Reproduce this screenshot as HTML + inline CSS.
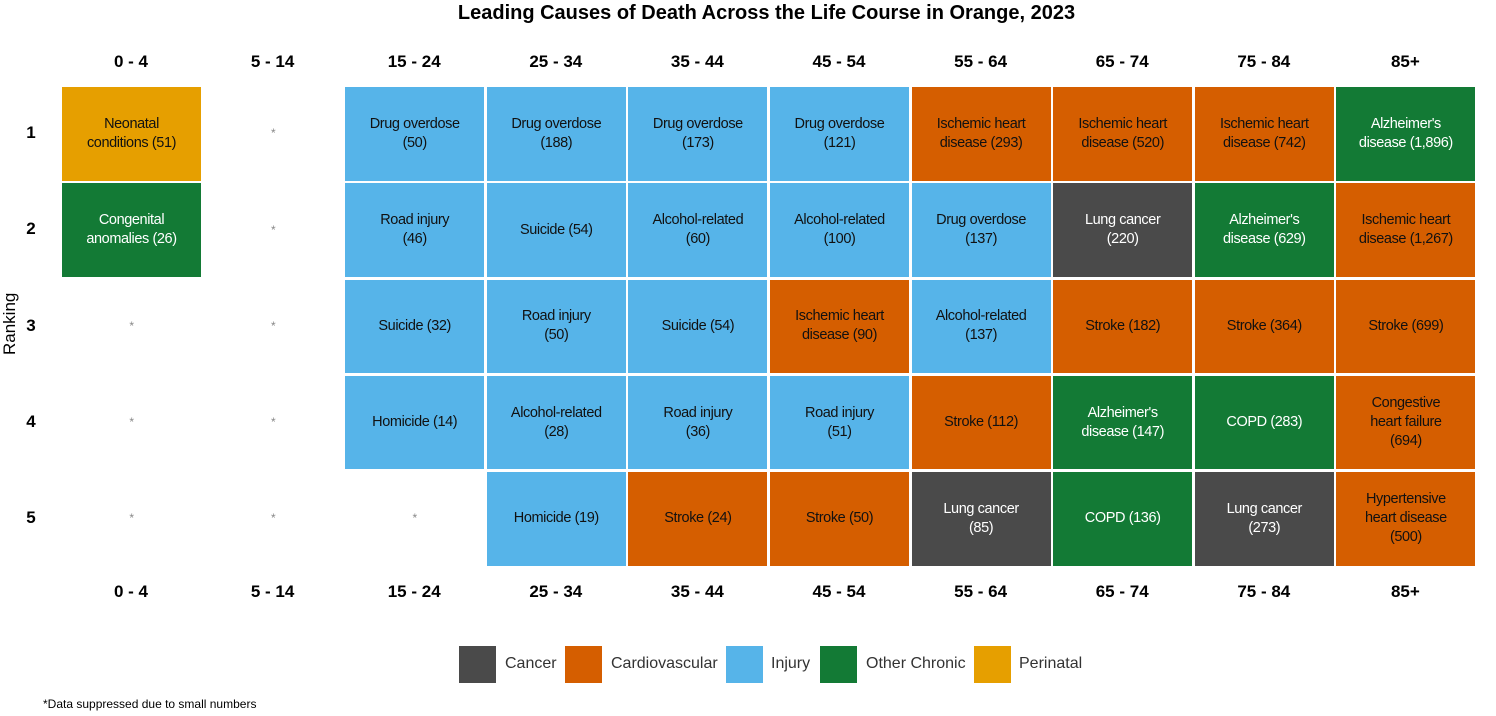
<!DOCTYPE html>
<html><head><meta charset="utf-8"><style>
body{margin:0;background:#fff;font-family:"Liberation Sans",sans-serif;}
#root{position:relative;width:1496px;height:716px;overflow:hidden;}
.t{position:absolute;display:flex;align-items:center;justify-content:center;text-align:center;font-size:14.5px;letter-spacing:-0.4px;line-height:19px;box-sizing:border-box;white-space:pre-line;}
.h{position:absolute;font-weight:bold;font-size:17px;width:141px;text-align:center;}
.r{position:absolute;font-weight:bold;font-size:17px;left:20px;width:22px;text-align:center;}
.sw{position:absolute;top:646px;width:37px;height:37px;}
.lt{position:absolute;top:655px;font-size:16px;color:#333;}
</style></head><body>
<div id="root">
<div style="position:absolute;top:2px;left:0;width:1533px;text-align:center;font-weight:bold;font-size:20px;">Leading Causes of Death Across the Life Course in Orange, 2023</div>
<div style="position:absolute;left:-20px;top:315px;width:60px;text-align:center;font-size:17px;transform:rotate(-90deg);">Ranking</div>
<div style="position:absolute;left:43px;top:697px;font-size:12px;">*Data suppressed due to small numbers</div>
<div class="sw" style="left:459px;background:#4a4a4a"></div><div class="lt" style="left:505px">Cancer</div>
<div class="sw" style="left:565px;background:#d55e00"></div><div class="lt" style="left:611px">Cardiovascular</div>
<div class="sw" style="left:726px;background:#56b4e9"></div><div class="lt" style="left:771px">Injury</div>
<div class="sw" style="left:820px;background:#137a35"></div><div class="lt" style="left:866px">Other Chronic</div>
<div class="sw" style="left:974px;background:#e69f00"></div><div class="lt" style="left:1019px">Perinatal</div>
</div>
<script>
const ageGroups=["0 - 4","5 - 14","15 - 24","25 - 34","35 - 44","45 - 54","55 - 64","65 - 74","75 - 84","85+"];
const ranks=[1,2,3,4,5];
const col0=[["Neonatal\nconditions (51)","P"],["Congenital\nanomalies (26)","O"],null,null,null];
const col1=[null,null,null,null,null];
const col2=[["Drug overdose\n(50)","I"],["Road injury\n(46)","I"],["Suicide (32)","I"],["Homicide (14)","I"],null];
const col3=[["Drug overdose\n(188)","I"],["Suicide (54)","I"],["Road injury\n(50)","I"],["Alcohol-related\n(28)","I"],["Homicide (19)","I"]];
const col4=[["Drug overdose\n(173)","I"],["Alcohol-related\n(60)","I"],["Suicide (54)","I"],["Road injury\n(36)","I"],["Stroke (24)","V"]];
const col5=[["Drug overdose\n(121)","I"],["Alcohol-related\n(100)","I"],["Ischemic heart\ndisease (90)","V"],["Road injury\n(51)","I"],["Stroke (50)","V"]];
const col6=[["Ischemic heart\ndisease (293)","V"],["Drug overdose\n(137)","I"],["Alcohol-related\n(137)","I"],["Stroke (112)","V"],["Lung cancer\n(85)","C"]];
const col7=[["Ischemic heart\ndisease (520)","V"],["Lung cancer\n(220)","C"],["Stroke (182)","V"],["Alzheimer's\ndisease (147)","O"],["COPD (136)","O"]];
const col8=[["Ischemic heart\ndisease (742)","V"],["Alzheimer's\ndisease (629)","O"],["Stroke (364)","V"],["COPD (283)","O"],["Lung cancer\n(273)","C"]];
const col9=[["Alzheimer's\ndisease (1,896)","O"],["Ischemic heart\ndisease (1,267)","V"],["Stroke (699)","V"],["Congestive\nheart failure\n(694)","V"],["Hypertensive\nheart disease\n(500)","V"]];
const cells=[col0,col1,col2,col3,col4,col5,col6,col7,col8,col9];
const fills={C:"#4a4a4a",V:"#d55e00",I:"#56b4e9",O:"#137a35",P:"#e69f00"};
const txt={C:"#fff",V:"#111",I:"#111",O:"#fff",P:"#111"};
const X=i=>62+i*141.6, Y=j=>87+j*96.3;
const root=document.getElementById('root');
ageGroups.forEach((g,i)=>{
  [62,592].forEach(yy=>{
    const h=document.createElement('div');h.className='h';
    
    
    h.style.left=(X(i)-1.5)+'px';h.style.top=(yy-10)+'px';h.textContent=g;root.appendChild(h);
  });
});
ranks.forEach((r,j)=>{
  const d=document.createElement('div');d.className='r';
  
  
  d.style.top=(Y(j)+36)+'px';d.textContent=r;root.appendChild(d);
});
cells.forEach((col,i)=>col.forEach((c,j)=>{
  const d=document.createElement('div');d.className='t';
  
  
  d.style.left=X(i)+'px';d.style.top=Y(j)+'px';d.style.width='139px';d.style.height='93.5px';
  if(c){d.style.background=fills[c[1]];d.style.color=txt[c[1]];d.textContent=c[0];}
  else{d.style.color='#888';d.style.fontSize='12px';d.textContent='*';}
  root.appendChild(d);
}));
</script>
</body></html>
